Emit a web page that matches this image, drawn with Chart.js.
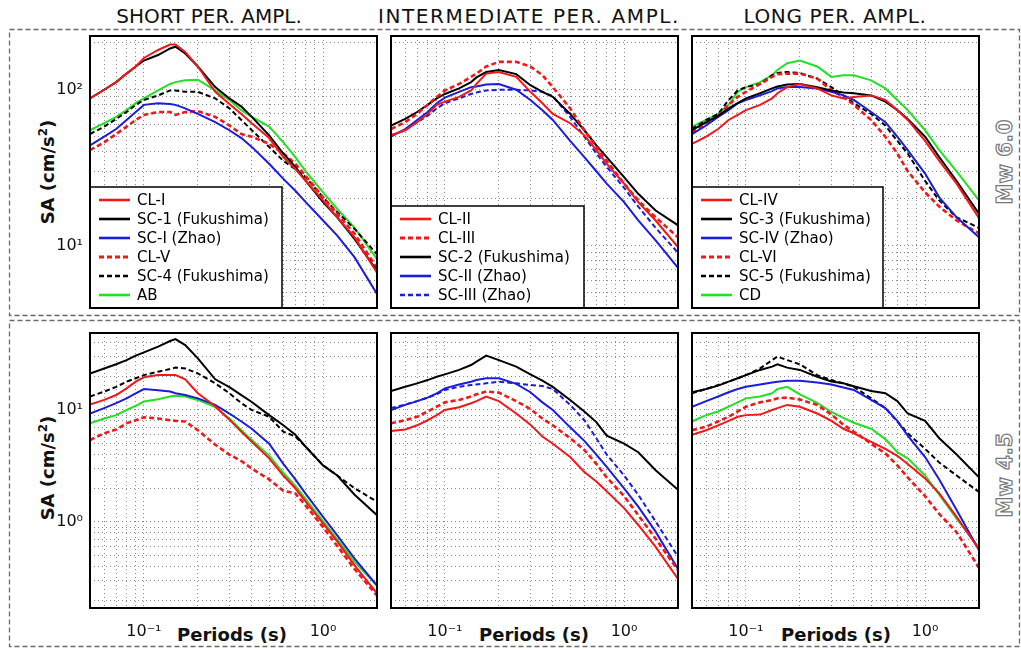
<!DOCTYPE html>
<html>
<head>
<meta charset="utf-8">
<script src="https://cdn.jsdelivr.net/npm/chart.js@4.4.0/dist/chart.umd.min.js"></script>
<style>
  body { margin: 0; background: #fff; width: 1021px; height: 650px; position: relative; overflow: hidden;
         font-family: "DejaVu Sans", sans-serif; color: #111; }
  canvas { position: absolute; }
  svg { position: absolute; left: 0; top: 0; }
  .title { position: absolute; top: 4px; font-size: 20px; transform: translateX(-50%); white-space: nowrap; }
  .ylab { position: absolute; font-weight: bold; font-size: 18px; white-space: nowrap;
          transform: translate(-50%, -50%) rotate(-90deg); }
  .xlab { position: absolute; font-weight: bold; font-size: 18px; white-space: nowrap; transform: translate(-50%, -50%); }
  .mw { position: absolute; font-size: 21px; font-weight: bold; color: #fff; white-space: nowrap;
        -webkit-text-stroke: 1.2px #777; transform: translate(-50%, -50%) rotate(-90deg); }
</style>
</head>
<body>
<svg width="1021" height="650">
  <rect x="9.5" y="29.5" width="1010" height="286" fill="none" stroke="#6a6a6a" stroke-width="1.3" stroke-dasharray="5 3"/>
  <rect x="9.5" y="320.5" width="1010" height="326" fill="none" stroke="#6a6a6a" stroke-width="1.3" stroke-dasharray="5 3"/>
</svg>

<div class="title" style="left:209px">SHORT PER. AMPL.</div>
<div class="title" style="left:529px;letter-spacing:1.6px">INTERMEDIATE PER. AMPL.</div>
<div class="title" style="left:835px;letter-spacing:0.6px">LONG PER. AMPL.</div>

<div class="ylab" style="left:47px;top:172px">SA (cm/s<sup style="font-size:12px">2</sup>)</div>
<div class="ylab" style="left:47px;top:468px">SA (cm/s<sup style="font-size:12px">2</sup>)</div>

<div class="xlab" style="left:232px;top:634px">Periods (s)</div>
<div class="xlab" style="left:534px;top:634px">Periods (s)</div>
<div class="xlab" style="left:836px;top:634px">Periods (s)</div>

<div class="mw" style="left:1005px;top:162px">Mw 6.0</div>
<div class="mw" style="left:1005px;top:475px">Mw 4.5</div>

<canvas id="tl"></canvas>
<canvas id="tm"></canvas>
<canvas id="tr"></canvas>
<canvas id="bl"></canvas>
<canvas id="bm"></canvas>
<canvas id="br"></canvas>

<script>
// periods (s) shared by all spectra
const periods = [0.05, 0.06, 0.07, 0.08, 0.09, 0.1, 0.12, 0.14, 0.15, 0.17, 0.2, 0.25, 0.3, 0.35, 0.4, 0.5, 0.6, 0.7, 0.8, 1.0, 1.2, 1.5, 2.0];

// Mw 6.0 - short period amplification
const tlClI  = [88, 100, 112, 127, 141, 160, 180, 195, 195, 175, 141, 97, 81, 70, 61, 49, 37, 31, 26, 19.5, 15.2, 11.3, 6.7];
const tlSc1  = [88, 100, 112, 127, 141, 154, 167, 184, 189, 171, 141, 104, 88, 78, 67, 51, 39, 32, 26, 19, 15.2, 11, 6.9];
const tlScI  = [44, 50, 56, 64, 72, 80, 82, 81, 80, 76, 70, 62, 55, 49, 43, 33.5, 26.8, 22.5, 19, 14.5, 11.6, 8.4, 4.9];
const tlClV  = [41, 46, 52, 58, 64, 69, 72, 72, 69, 72, 73, 67, 59, 52, 50, 45, 39, 33.5, 28, 20.4, 16, 11.9, 7.2];
const tlSc4  = [52, 58, 65, 72, 80, 86, 92, 99, 99, 97, 97, 88, 76, 64, 55, 43, 35, 31, 27.5, 20.4, 16.4, 12.8, 8.8];
const tlAB   = [55, 61, 67, 74, 82, 88, 99, 109, 112, 115, 116, 99, 86, 74, 67, 58, 46, 37, 30, 22, 17.2, 13, 8.2];

// Mw 6.0 - intermediate period amplification
const tmClII  = [51, 55, 62, 70, 80, 84, 90, 99, 109, 127, 130, 121, 97, 82, 70, 61, 51, 41, 33.5, 25, 19, 14.5, 9.8];
const tmClIII = [56, 62, 70, 80, 90, 99, 109, 121, 127, 141, 151, 151, 141, 124, 104, 76, 55, 43, 35, 25, 19.5, 15.2, 11.3];
const tmSc2   = [59, 65, 72, 80, 88, 94, 102, 112, 120, 130, 134, 126, 107, 97, 90, 70, 55, 44, 37, 27.5, 21.5, 16.8, 13.5];
const tmScII  = [50, 56, 64, 72, 82, 89, 97, 104, 105, 108, 109, 100, 86, 74, 64, 47, 37, 30, 25, 19, 14.5, 10.8, 7.2];
const tmScIII = [51, 55, 62, 68, 76, 82, 88, 94, 96, 99, 100, 100, 99, 97, 91, 67, 50, 39, 32, 23.5, 17.8, 13, 9];

// Mw 6.0 - long period amplification
const trClIV = [45, 50, 56, 64, 69, 74, 80, 88, 95, 104, 109, 102, 92, 88, 90, 92, 86, 74, 64, 47, 35, 25, 15];
const trSc3  = [55, 62, 68, 76, 82, 88, 95, 102, 105, 108, 109, 104, 99, 96, 95, 92, 84, 74, 65, 50, 37, 26, 16];
const trScIV = [52, 59, 67, 74, 82, 86, 92, 98, 102, 104, 104, 102, 97, 92, 86, 72, 62, 50, 41, 29, 20.4, 15.2, 11.3];
const trClVI = [53, 61, 68, 80, 90, 97, 109, 121, 126, 127, 127, 118, 99, 90, 80, 64, 50, 39, 30, 22, 17.8, 14.5, 12];
const trSc5  = [56, 64, 70, 86, 99, 104, 109, 124, 128, 130, 128, 118, 104, 92, 82, 70, 59, 47, 39, 26, 19.5, 15.2, 13];
const trCD   = [58, 64, 70, 80, 97, 104, 112, 124, 134, 148, 154, 141, 121, 124, 124, 115, 102, 86, 74, 55, 41, 30, 19.5];

// Mw 4.5 - short period amplification
const blClI = [11.2, 12.3, 13.6, 15.6, 17.9, 19.6, 20.5, 20.5, 20.5, 18.8, 14.1, 10.8, 8.2, 6.4, 5.2, 3.7, 2.6, 2.0, 1.52, 0.97, 0.67, 0.41, 0.23];
const blSc1 = [21.2, 23.5, 25.6, 27.9, 30.6, 32.7, 36.8, 41.3, 43, 38, 28.9, 18.8, 16.0, 13.6, 11.8, 9.0, 7.3, 6.0, 4.7, 3.2, 2.6, 1.75, 1.15];
const blScI = [9.3, 10.4, 11.5, 12.7, 14.1, 15.4, 15.0, 14.6, 14.1, 13.6, 12.7, 11.1, 9.3, 7.9, 6.8, 5.0, 3.3, 2.4, 1.78, 1.11, 0.76, 0.47, 0.27];
const blClV = [5.4, 6.2, 6.7, 7.6, 8.1, 8.6, 8.4, 8.1, 8.0, 7.9, 6.6, 4.9, 4.0, 3.5, 3.0, 2.4, 1.9, 1.8, 1.4, 0.9, 0.61, 0.38, 0.22];
const blSc4 = [13.2, 14.6, 16.1, 17.9, 19.2, 20.5, 22, 23.2, 23.9, 23.5, 21.2, 17.3, 14.1, 11.5, 10, 8.7, 6.4, 5.8, 4.7, 3.2, 2.6, 2.0, 1.52];
const blAB  = [7.6, 8.4, 9.0, 10, 10.9, 11.9, 12.5, 13.2, 13.4, 13.2, 12.3, 10.6, 8.4, 6.6, 5.4, 3.9, 2.75, 2.1, 1.6, 1.02, 0.7, 0.44, 0.27];

// Mw 4.5 - intermediate period amplification
const bmClII  = [6.5, 6.7, 7.3, 8.1, 9.0, 10, 10.6, 11.5, 12, 13.2, 12.0, 9.3, 7.4, 5.8, 5.0, 3.8, 2.8, 2.3, 1.88, 1.33, 0.94, 0.6, 0.31];
const bmClIII = [7.6, 8.1, 8.7, 9.7, 10.7, 11.7, 12.3, 13.2, 13.8, 14.6, 14.3, 12.0, 10.2, 8.4, 7.3, 5.6, 4.4, 3.3, 2.5, 1.7, 1.15, 0.71, 0.37];
const bmSc2   = [14.8, 16.1, 17.3, 18.5, 19.8, 20.8, 22.8, 25.2, 27, 30.6, 27.9, 24.4, 20.8, 18.3, 16.1, 12.3, 9.7, 7.8, 5.9, 5.0, 4.2, 2.9, 1.94];
const bmScII  = [10, 11.1, 12.0, 12.9, 14.1, 15.6, 16.9, 17.9, 18.5, 19.2, 19.2, 17.1, 14.4, 11.7, 10.0, 7.0, 5.3, 4.0, 3.1, 2.0, 1.37, 0.82, 0.38];
const bmScIII = [10.4, 11.2, 12.0, 12.9, 13.8, 15.1, 16.1, 16.7, 16.9, 17.3, 17.9, 17.3, 16.7, 16.4, 15.4, 11.1, 8.1, 5.6, 4.0, 2.6, 1.75, 1.01, 0.49];

// Mw 4.5 - long period amplification
const brClIV = [6.0, 6.6, 7.3, 8.0, 8.7, 9.0, 9.1, 10, 10.4, 11.1, 10.7, 9.3, 8.0, 6.8, 6.2, 5.2, 4.5, 3.9, 3.3, 2.45, 1.8, 1.11, 0.57];
const brSc3  = [14.4, 15.4, 16.5, 17.9, 19.2, 20.5, 22.8, 24.4, 25.6, 23.9, 22.8, 19.8, 18.0, 17.3, 16.3, 14.8, 14.1, 12.0, 9.3, 8.0, 5.6, 4.0, 2.5];
const brScIV = [10.7, 12.0, 13.2, 14.4, 15.4, 16.1, 16.9, 17.6, 17.9, 18.2, 18.2, 17.6, 16.9, 15.9, 15.1, 12.3, 10.4, 8.0, 5.9, 3.8, 2.4, 1.28, 0.56];
const brClVI = [6.6, 7.1, 7.9, 8.7, 9.7, 10.7, 11.7, 12.3, 12.7, 12.9, 12.4, 11.1, 9.1, 7.4, 6.4, 5.0, 4.1, 3.2, 2.5, 1.7, 1.18, 0.81, 0.39];
const brSc5  = [14.1, 15.4, 16.7, 17.9, 19.2, 20.5, 23.5, 27.9, 30.0, 27.9, 25.6, 20.5, 18.5, 17.3, 16.1, 12.7, 10.4, 7.9, 6.2, 4.5, 3.4, 2.6, 1.85];
const brCD   = [7.9, 9.0, 9.7, 10.7, 11.7, 12.7, 13.2, 14.1, 15.4, 16.1, 13.8, 11.6, 9.6, 8.5, 7.7, 6.8, 5.5, 4.2, 3.7, 2.6, 1.75, 1.07, 0.59];

// axis grid lines and labelled ticks
const xGrid = [0.05, 0.06, 0.07, 0.08, 0.09, 0.1, 0.2, 0.3, 0.4, 0.5, 0.6, 0.7, 0.8, 0.9, 1, 2];
const xTickValues = [0.1, 1];
const xTickLabels = ['10\u207B\u00B9', '10\u2070'];
const yGridTop = [4, 5, 6, 7, 8, 9, 10, 20, 30, 40, 50, 60, 70, 80, 90, 100, 200];
const yGridBottom = [0.2, 0.3, 0.4, 0.5, 0.6, 0.7, 0.8, 0.9, 1, 2, 3, 4, 5, 6, 7, 8, 9, 10, 20, 30, 40];
const yTickValues = [1, 10, 100];
const yTickLabels = ['10\u2070', '10\u00B9', '10\u00B2'];

// panel placement
const colLeft = [90, 391, 692];
const panelW = 287;
const rowTop = [36, 333];
const rowH = [272, 275];
const yRange = [[3.98, 221.3], [0.1706, 48.7]];
const padL = 60, padT = 4, padR = 4, padB = 40;

const RED = '#f01818', BLACK = '#000000', BLUE = '#1c1cdc', GREEN = '#22e022';
const DASH = [5, 3];

function series(label, values, color, dashed) {
  return {
    label,
    data: values.map((v, i) => ({ x: periods[i], y: v })),
    borderColor: color,
    borderWidth: dashed && color === RED ? 2.6 : 2,
    borderDash: dashed ? DASH : [],
    pointRadius: 0,
    tension: 0,
    fill: false
  };
}

const boxFrame = {
  id: 'boxFrame',
  afterDraw(chart) {
    const { ctx, chartArea: a } = chart;
    ctx.save();
    ctx.strokeStyle = '#000';
    ctx.lineWidth = 2;
    ctx.strokeRect(a.left, a.top, a.right - a.left, a.bottom - a.top);
    ctx.restore();
  }
};

// legend box sitting in the lower left corner of the plot
const boxLegend = {
  id: 'boxLegend',
  afterDatasetsDraw(chart, args, opts) {
    if (!opts.width) return;
    const { ctx, chartArea: a } = chart;
    const ds = chart.data.datasets;
    const rowStep = 19, first = 13;
    const h = first * 2 + (ds.length - 1) * rowStep;
    const top = a.bottom - h;
    ctx.save();
    ctx.fillStyle = '#fff';
    ctx.fillRect(a.left, top, opts.width, h);
    ctx.strokeStyle = '#000';
    ctx.lineWidth = 1.5;
    ctx.strokeRect(a.left, top, opts.width, h);
    ctx.font = '15px "DejaVu Sans"';
    ctx.textBaseline = 'middle';
    ds.forEach((d, i) => {
      const y = top + first + i * rowStep;
      ctx.strokeStyle = d.borderColor;
      ctx.lineWidth = d.borderWidth + 0.6;
      ctx.setLineDash(d.borderDash);
      ctx.beginPath();
      ctx.moveTo(a.left + 9, y);
      ctx.lineTo(a.left + 40, y);
      ctx.stroke();
      ctx.setLineDash([]);
      ctx.fillStyle = '#000';
      ctx.fillText(d.label, a.left + 47, y + 1);
    });
    ctx.restore();
  }
};

function makePanel(id, col, row, datasets, legendWidth) {
  const canvas = document.getElementById(id);
  canvas.width = panelW + padL + padR;
  canvas.height = rowH[row] + padT + padB;
  canvas.style.left = (colLeft[col] - padL) + 'px';
  canvas.style.top = (rowTop[row] - padT) + 'px';
  const grid = { color: '#8c8c8c', lineWidth: 1, drawTicks: false };
  const border = { display: false, dash: [1, 3] };
  const yGrid = row === 0 ? yGridTop : yGridBottom;

  new Chart(canvas, {
    type: 'line',
    data: { datasets },
    options: {
      responsive: false,
      animation: false,
      devicePixelRatio: 1,
      layout: { padding: { top: padT, right: padR, left: 0, bottom: 0 } },
      plugins: {
        legend: { display: false },
        tooltip: { enabled: false },
        boxLegend: { width: legendWidth }
      },
      scales: {
        x: {
          type: 'logarithmic',
          min: 0.05,
          max: 2,
          grid, border,
          afterBuildTicks: s => { s.ticks = xGrid.map(v => ({ value: v })); },
          afterFit: s => { s.height = padB; s.paddingLeft = 0; s.paddingRight = 0; },
          ticks: {
            display: row === 1,
            autoSkip: false,
            maxRotation: 0,
            padding: 14,
            color: '#111',
            font: { family: 'DejaVu Sans', size: 16 },
            callback: v => {
              const k = xTickValues.indexOf(v);
              return k < 0 ? '' : xTickLabels[k];
            }
          }
        },
        y: {
          type: 'logarithmic',
          min: yRange[row][0],
          max: yRange[row][1],
          grid, border,
          afterBuildTicks: s => { s.ticks = yGrid.map(v => ({ value: v })); },
          afterFit: s => { s.width = padL; s.paddingTop = 0; s.paddingBottom = 0; },
          ticks: {
            display: col === 0,
            autoSkip: false,
            padding: 7,
            color: '#111',
            font: { family: 'DejaVu Sans', size: 16 },
            callback: v => {
              const k = yTickValues.indexOf(v);
              return k < 0 ? '' : yTickLabels[k];
            }
          }
        }
      }
    },
    plugins: [boxFrame, boxLegend]
  });
}

makePanel('tl', 0, 0, [
  series('CL-I', tlClI, RED, false),
  series('SC-1 (Fukushima)', tlSc1, BLACK, false),
  series('SC-I (Zhao)', tlScI, BLUE, false),
  series('CL-V', tlClV, RED, true),
  series('SC-4 (Fukushima)', tlSc4, BLACK, true),
  series('AB', tlAB, GREEN, false)
], 192);

makePanel('tm', 1, 0, [
  series('CL-II', tmClII, RED, false),
  series('CL-III', tmClIII, RED, true),
  series('SC-2 (Fukushima)', tmSc2, BLACK, false),
  series('SC-II (Zhao)', tmScII, BLUE, false),
  series('SC-III (Zhao)', tmScIII, BLUE, true)
], 193);

makePanel('tr', 2, 0, [
  series('CL-IV', trClIV, RED, false),
  series('SC-3 (Fukushima)', trSc3, BLACK, false),
  series('SC-IV (Zhao)', trScIV, BLUE, false),
  series('CL-VI', trClVI, RED, true),
  series('SC-5 (Fukushima)', trSc5, BLACK, true),
  series('CD', trCD, GREEN, false)
], 191);

makePanel('bl', 0, 1, [
  series('CL-I', blClI, RED, false),
  series('SC-1 (Fukushima)', blSc1, BLACK, false),
  series('SC-I (Zhao)', blScI, BLUE, false),
  series('CL-V', blClV, RED, true),
  series('SC-4 (Fukushima)', blSc4, BLACK, true),
  series('AB', blAB, GREEN, false)
], 0);

makePanel('bm', 1, 1, [
  series('CL-II', bmClII, RED, false),
  series('CL-III', bmClIII, RED, true),
  series('SC-2 (Fukushima)', bmSc2, BLACK, false),
  series('SC-II (Zhao)', bmScII, BLUE, false),
  series('SC-III (Zhao)', bmScIII, BLUE, true)
], 0);

makePanel('br', 2, 1, [
  series('CL-IV', brClIV, RED, false),
  series('SC-3 (Fukushima)', brSc3, BLACK, false),
  series('SC-IV (Zhao)', brScIV, BLUE, false),
  series('CL-VI', brClVI, RED, true),
  series('SC-5 (Fukushima)', brSc5, BLACK, true),
  series('CD', brCD, GREEN, false)
], 0);
</script>
</body>
</html>
